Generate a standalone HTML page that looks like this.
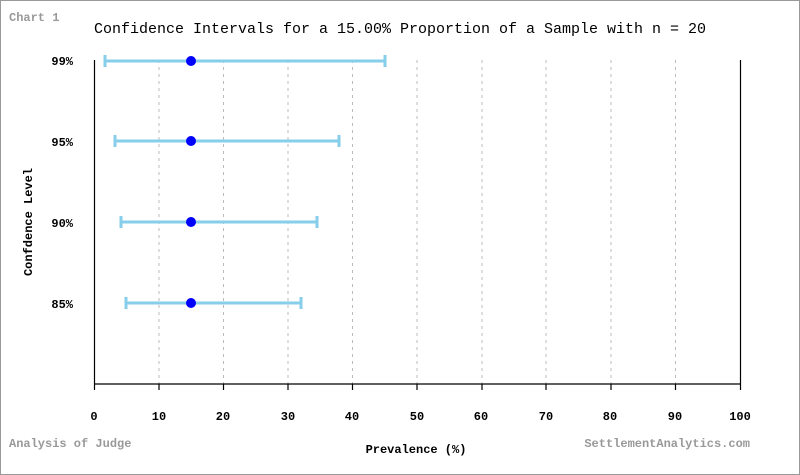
<!DOCTYPE html>
<html><head><meta charset="utf-8"><style>
html,body{margin:0;padding:0;background:#fff}
svg{display:block}
text{font-family:"Liberation Mono","DejaVu Sans Mono",monospace}
</style></head><body>
<svg width="800" height="475" viewBox="0 0 800 475" xmlns="http://www.w3.org/2000/svg">
<rect x="0.5" y="0.5" width="799" height="474" fill="#fff" stroke="#999" stroke-width="1"/>
<text x="9" y="21" font-size="12" font-weight="bold" fill="#999">Chart 1</text>
<text x="400" y="33" font-size="15" text-anchor="middle" fill="#000">Confidence Intervals for a 15.00% Proportion of a Sample with n = 20</text>
<g stroke="#bbb" stroke-dasharray="3,4" stroke-width="1">
<line x1="159" y1="60" x2="159" y2="384"/><line x1="223.5" y1="60" x2="223.5" y2="384"/>
<line x1="288" y1="60" x2="288" y2="384"/><line x1="352.5" y1="60" x2="352.5" y2="384"/>
<line x1="417" y1="60" x2="417" y2="384"/><line x1="482" y1="60" x2="482" y2="384"/>
<line x1="546" y1="60" x2="546" y2="384"/><line x1="611" y1="60" x2="611" y2="384"/>
<line x1="675.5" y1="60" x2="675.5" y2="384"/>
</g>
<g stroke="#000" stroke-width="1.2">
<line x1="94.5" y1="60" x2="94.5" y2="384"/>
<line x1="740.5" y1="60" x2="740.5" y2="384"/>
<line x1="94" y1="384" x2="741" y2="384"/>
<line x1="94.5" y1="384" x2="94.5" y2="390"/><line x1="159" y1="384" x2="159" y2="390"/>
<line x1="223.5" y1="384" x2="223.5" y2="390"/><line x1="288" y1="384" x2="288" y2="390"/>
<line x1="352.5" y1="384" x2="352.5" y2="390"/><line x1="417" y1="384" x2="417" y2="390"/>
<line x1="482" y1="384" x2="482" y2="390"/><line x1="546" y1="384" x2="546" y2="390"/>
<line x1="611" y1="384" x2="611" y2="390"/><line x1="675.5" y1="384" x2="675.5" y2="390"/>
<line x1="740.5" y1="384" x2="740.5" y2="390"/>
</g>
<g font-size="12" font-weight="bold" text-anchor="middle" fill="#000">
<text x="94" y="420">0</text><text x="159" y="420">10</text><text x="223" y="420">20</text>
<text x="288" y="420">30</text><text x="352" y="420">40</text><text x="417" y="420">50</text>
<text x="481" y="420">60</text><text x="546" y="420">70</text><text x="610" y="420">80</text>
<text x="675" y="420">90</text><text x="740" y="420">100</text>
</g>
<g font-size="12" font-weight="bold" text-anchor="end" fill="#000">
<text x="73" y="65">99%</text><text x="73" y="146">95%</text>
<text x="73" y="227">90%</text><text x="73" y="308">85%</text>
</g>
<text x="416" y="453" font-size="12" font-weight="bold" text-anchor="middle">Prevalence (%)</text>
<text transform="translate(32,222) rotate(-90)" font-size="12" font-weight="bold" text-anchor="middle">Confdence Level</text>
<text x="9" y="447" font-size="12" font-weight="bold" fill="#999">Analysis of Judge</text>
<text x="750" y="447" font-size="12" font-weight="bold" fill="#999" text-anchor="end">SettlementAnalytics.com</text>
<g stroke="#87ceeb" stroke-width="3">
<line x1="105" y1="61" x2="385" y2="61"/><line x1="105" y1="55" x2="105" y2="67"/><line x1="385" y1="55" x2="385" y2="67"/>
<line x1="115" y1="141" x2="339" y2="141"/><line x1="115" y1="135" x2="115" y2="147"/><line x1="339" y1="135" x2="339" y2="147"/>
<line x1="121" y1="222" x2="317" y2="222"/><line x1="121" y1="216" x2="121" y2="228"/><line x1="317" y1="216" x2="317" y2="228"/>
<line x1="126" y1="303" x2="301" y2="303"/><line x1="126" y1="297" x2="126" y2="309"/><line x1="301" y1="297" x2="301" y2="309"/>
</g>
<g fill="#0000ff">
<circle cx="191" cy="61" r="5"/><circle cx="191" cy="141" r="5"/>
<circle cx="191" cy="222" r="5"/><circle cx="191" cy="303" r="5"/>
</g>
</svg>
</body></html>
